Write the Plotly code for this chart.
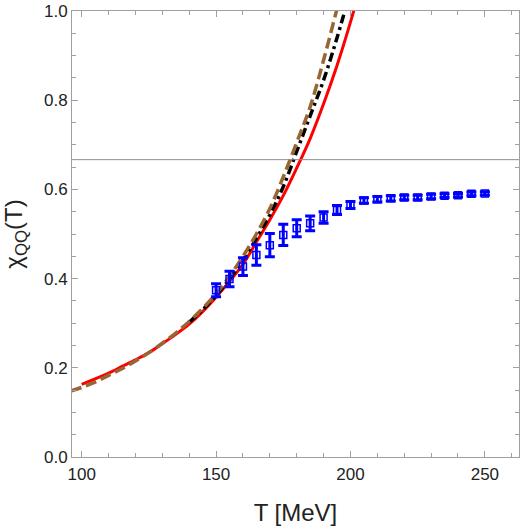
import plotly.graph_objects as go

# Lattice data points
T_data = [150, 155, 160, 165, 170, 175, 180, 185, 190, 195, 200,
          205, 210, 215, 220, 225, 230, 235, 240, 245, 250]
chi_data = [0.374, 0.399, 0.427, 0.453, 0.475, 0.498, 0.513, 0.524, 0.537, 0.554, 0.565,
            0.575, 0.578, 0.580, 0.582, 0.582, 0.584, 0.586, 0.587, 0.590, 0.591]
chi_err = [0.0145, 0.0175, 0.020, 0.023, 0.026, 0.024, 0.019, 0.0165, 0.013, 0.010, 0.008,
           0.006, 0.006, 0.006, 0.005, 0.005, 0.005, 0.004, 0.004, 0.004, 0.004]

# Red solid curve
T_red = [100, 105, 110, 115, 120, 125, 130, 135, 140, 145, 150, 155, 160,
         165, 170, 175, 180, 185, 190, 195, 200, 205]
chi_red = [0.163, 0.175, 0.188, 0.203, 0.218, 0.234, 0.254, 0.275, 0.298, 0.326, 0.358, 0.394, 0.432,
           0.482, 0.532, 0.586, 0.648, 0.714, 0.792, 0.878, 0.975, 1.082]

# Brown dashed curve
T_brown = [96, 100, 105, 110, 115, 120, 125, 130, 135, 140, 145, 150, 155, 160,
           165, 170, 175, 180, 185, 190, 195, 200]
chi_brown = [0.148, 0.156, 0.168, 0.183, 0.198, 0.215, 0.234, 0.255, 0.278, 0.304, 0.333, 0.366, 0.405, 0.450,
             0.500, 0.557, 0.628, 0.705, 0.785, 0.890, 1.005, 1.12]

# Black dash-dotted curve (hidden under the brown one at low T)
T_black = [140, 145, 150, 155, 160, 165, 170, 175, 180, 185, 190, 195, 200]
chi_black = [0.302, 0.330, 0.362, 0.399, 0.441,
             0.490, 0.543, 0.606, 0.685, 0.765, 0.845, 0.940, 1.045]

ref_level = 2 / 3
x_range = [96.4, 262.7]
y_range = [0, 1]

fig = go.Figure()

fig.add_trace(go.Scatter(x=T_red, y=chi_red, mode="lines",
                         line=dict(color="rgb(255,0,0)", width=3, shape="spline"),
                         showlegend=False))
fig.add_trace(go.Scatter(x=T_black, y=chi_black, mode="lines",
                         line=dict(color="black", width=3.5, shape="spline", dash="9px,4px,3px,4px"),
                         showlegend=False))
fig.add_trace(go.Scatter(x=T_brown, y=chi_brown, mode="lines",
                         line=dict(color="rgb(153,102,51)", width=3.5, shape="spline", dash="11px,5px"),
                         showlegend=False))
fig.add_trace(go.Scatter(x=T_data, y=chi_data, mode="markers",
                         marker=dict(symbol="square-open", size=7, color="rgb(0,0,255)",
                                     line=dict(width=1.5, color="rgb(0,0,255)")),
                         error_y=dict(type="data", array=chi_err, visible=True,
                                      color="rgb(0,0,255)", thickness=3, width=5),
                         showlegend=False))

fig.add_shape(type="line", xref="x", yref="y", x0=x_range[0], x1=x_range[1],
              y0=ref_level, y1=ref_level, line=dict(color="rgb(140,140,140)", width=1))

axis_common = dict(showline=True, linecolor="rgb(160,160,160)", linewidth=1, mirror="ticks",
                   ticks="inside", tickcolor="rgb(160,160,160)", ticklen=6, tickwidth=1,
                   showgrid=False, zeroline=False,
                   tickfont=dict(family="Liberation Sans, Arial", size=17, color="#222"))

fig.update_xaxes(range=x_range, tickvals=[100, 150, 200, 250], ticktext=["100", "150", "200", "250"],
                 minor=dict(ticks="inside", dtick=10, tick0=100, ticklen=4, tickcolor="rgb(160,160,160)"),
                 ticklabelstandoff=2,
                 title=dict(text="T [MeV]", font=dict(family="Liberation Sans, Arial", size=24, color="#222"),
                            standoff=20),
                 **axis_common)
fig.update_yaxes(range=y_range, tickvals=[0, 0.2, 0.4, 0.6, 0.8, 1.0],
                 ticktext=["0.0", "0.2", "0.4", "0.6", "0.8", "1.0"],
                 minor=dict(ticks="inside", dtick=0.05, tick0=0, ticklen=4, tickcolor="rgb(160,160,160)"),
                 title=dict(text="χ<sub>QQ</sub>(T)", font=dict(family="Liberation Sans, Arial", size=24, color="#222"),
                            standoff=14),
                 **axis_common)

fig.update_layout(width=521, height=528, margin=dict(l=72, r=2, t=11, b=71),
                  plot_bgcolor="white", paper_bgcolor="white")

fig.write_html("out.html")
